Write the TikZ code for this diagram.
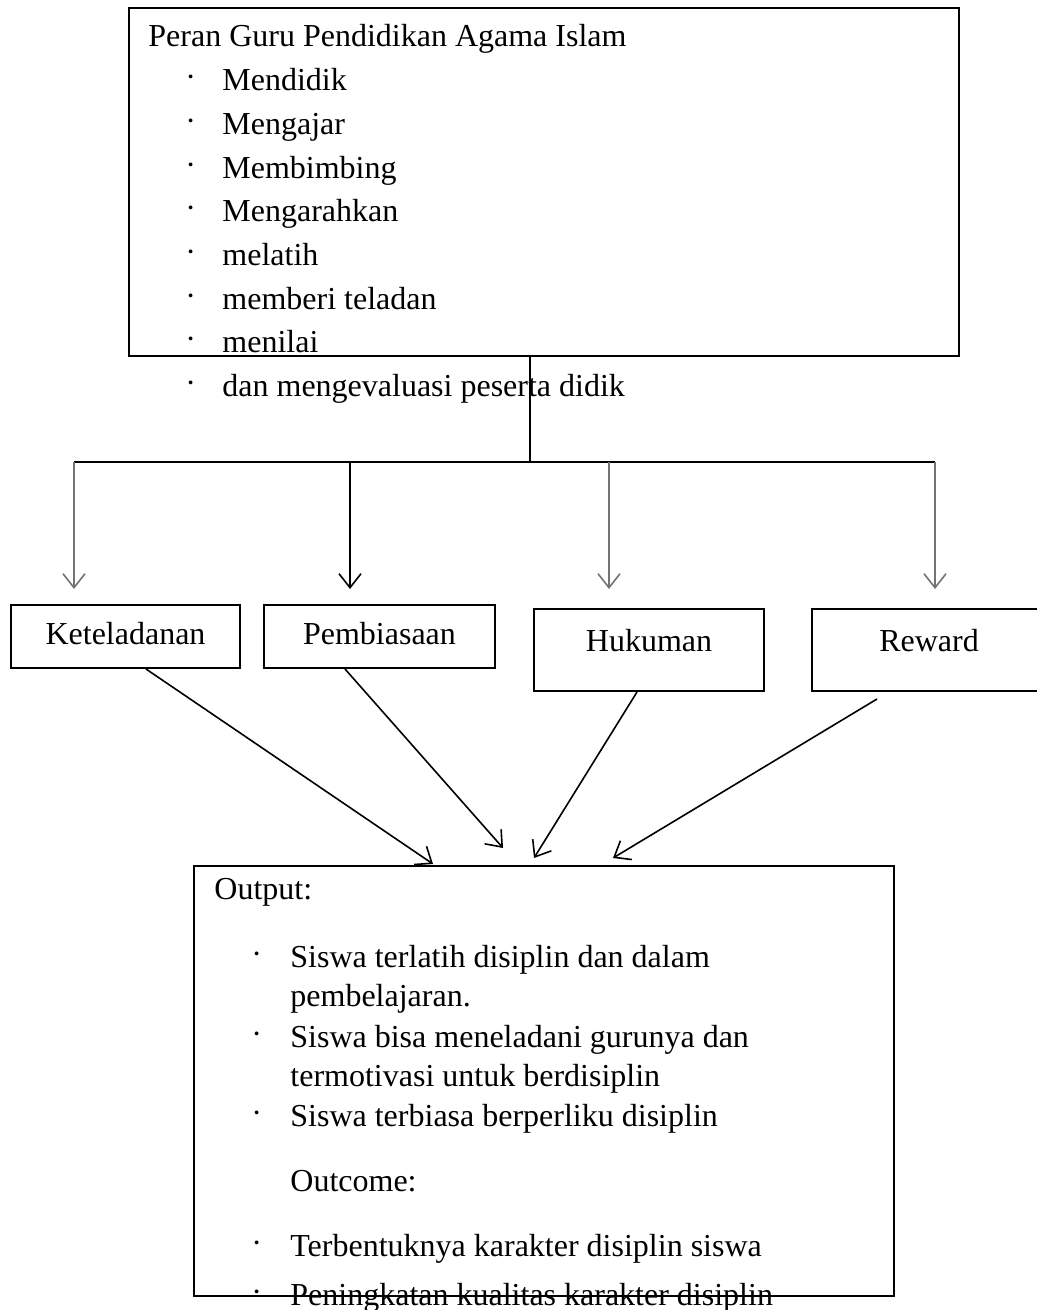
\documentclass[tikz,border=0pt]{standalone}
\usepackage{fontspec}
\setmainfont{Liberation Serif}
\usetikzlibrary{arrows.meta}

\begin{document}
\begin{tikzpicture}[x=0.5pt, y=-0.5pt,
    font=\fontsize{16}{19}\selectfont,
    kotak/.style={draw, line width=1pt, inner sep=0pt, anchor=north west},
    teks/.style={inner sep=0pt, anchor=base west},
    titik/.style={inner sep=0pt, anchor=base west},
    garis/.style={line width=0.8pt},
    panah/.style={line width=0.8pt, -{Straight Barb[length=7pt, width=11pt]}}]
\clip (0,0) rectangle (1037,1310);

% kotak peran guru
\node[kotak, minimum width=415pt, minimum height=174pt] (peran) at (128,7) {};
\node[teks] (judul) at (148,47) {Peran Guru Pendidikan Agama Islam};
\foreach \t [count=\i] in {Mendidik, Mengajar, Membimbing, Mengarahkan, melatih, memberi teladan, menilai, dan mengevaluasi peserta didik}{
    \node[titik] (peranbul\i) at (185,{47+43.7*\i}) {\raisebox{1.5pt}{·}};
    \node[teks] (peranitem\i) at (222,{47+43.7*\i}) {\t};
}

% cabang ke empat metode
\coordinate (cabang) at (530,462);
\coordinate (kiri) at (74,462);
\coordinate (kanan) at (935,462);
\draw[garis] (cabang |- peran.south) -- (cabang);
\draw[garis] (kiri) -- (kanan);
\foreach \x/\n/\w in {74/1/black!55, 350/2/black, 609/3/black!55, 935/4/black!55}{
    \coordinate (turun\n) at (\x,462);
    \coordinate (ujung\n) at (\x,589);
    \draw[panah, color=\w] (turun\n) -- (ujung\n);
}

% metode
\node[kotak, minimum width=114.5pt, text height=19.5pt, text depth=12pt] (keteladanan) at (10,604) {Keteladanan};
\node[kotak, minimum width=115.5pt, text height=19.5pt, text depth=12pt] (pembiasaan) at (263,604) {Pembiasaan};
\node[kotak, minimum width=115pt, text height=21pt, text depth=20pt] (hukuman) at (533,608) {Hukuman};
\node[kotak, minimum width=117pt, text height=21pt, text depth=20pt] (reward) at (811,608) {Reward};

% kotak hasil
\node[kotak, minimum width=350pt, minimum height=215pt] (hasil) at (193,865) {};
\node[teks] (output) at (214,899) {Output:};
\foreach \y/\t [count=\i] in {967/Siswa terlatih disiplin dan dalam, 1047/Siswa bisa meneladani gurunya dan, 1126/Siswa terbiasa berperliku disiplin, 1256/Terbentuknya karakter disiplin siswa, 1305/Peningkatan kualitas karakter disiplin}{
    \node[titik] (hasilbul\i) at (251,\y) {\raisebox{1.5pt}{·}};
    \node[teks] (hasilitem\i) at (290,\y) {\t};
}
\node[teks] (lanjut1) at (290,1006) {pembelajaran.};
\node[teks] (lanjut2) at (290,1086) {termotivasi untuk berdisiplin};
\node[teks] (outcome) at (290,1191) {Outcome:};

% panah ke hasil
\coordinate (masuk1) at (433,864);
\coordinate (masuk2) at (503,848);
\coordinate (masuk3) at (534,858);
\coordinate (masuk4) at (613,858);
\coordinate (mulai4) at (877,699);
\draw[panah] (146,0 |- keteladanan.south) -- (masuk1);
\draw[panah] (345,0 |- pembiasaan.south) -- (masuk2);
\draw[panah] (637,0 |- hukuman.south) -- (masuk3);
\draw[panah] (mulai4) -- (masuk4);
\end{tikzpicture}
\end{document}
